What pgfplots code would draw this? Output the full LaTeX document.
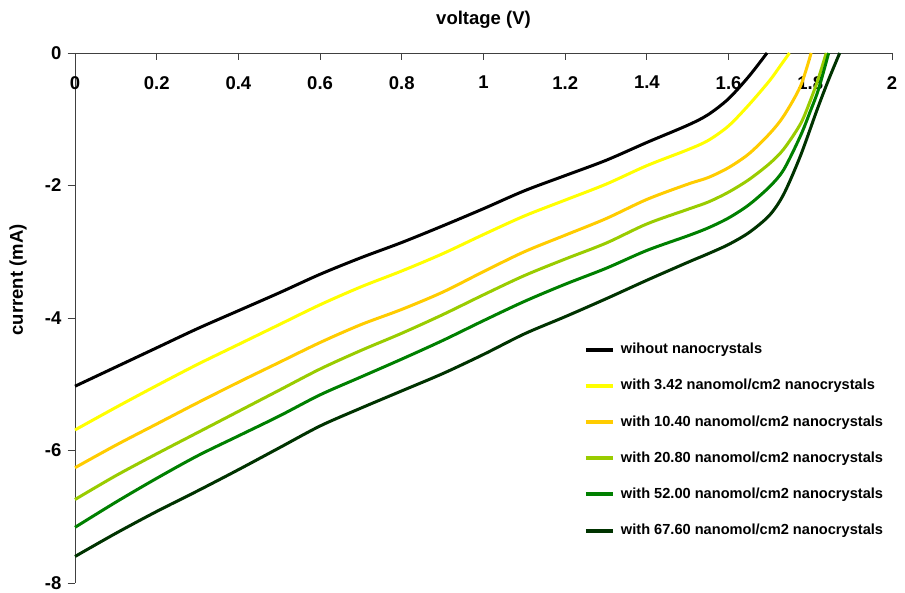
\documentclass[border=0pt]{standalone}
\usepackage{fontspec}
\setmainfont{Liberation Sans}
\usepackage{pgfplots}
\pgfplotsset{compat=1.18}
\usepackage{pgfplotstable}
\definecolor{cyel}{HTML}{FFFF00}
\definecolor{corg}{HTML}{FFCC00}
\definecolor{clgr}{HTML}{99CC00}
\definecolor{cgrn}{HTML}{008000}
\definecolor{cdgr}{HTML}{003300}
\pgfplotstableread{
x y
0 -5.03
0.1 -4.74
0.2 -4.45
0.3 -4.16
0.4 -3.89
0.5 -3.62
0.6 -3.34
0.7 -3.09
0.8 -2.86
0.9 -2.61
1.0 -2.35
1.1 -2.08
1.2 -1.85
1.3 -1.62
1.4 -1.35
1.5 -1.09
1.55 -0.93
1.6 -0.69
1.65 -0.35
1.694 0
}\blackdata
\pgfplotstableread{
x y
0 -5.69
0.1 -5.35
0.2 -5.02
0.3 -4.70
0.4 -4.40
0.5 -4.10
0.6 -3.80
0.7 -3.53
0.8 -3.29
0.9 -3.03
1.0 -2.74
1.1 -2.46
1.2 -2.22
1.3 -1.98
1.4 -1.70
1.5 -1.46
1.55 -1.32
1.6 -1.10
1.65 -0.78
1.7 -0.42
1.727 -0.19
1.749 0
}\yeldata
\pgfplotstableread{
x y
0 -6.26
0.1 -5.92
0.2 -5.60
0.3 -5.28
0.4 -4.97
0.5 -4.67
0.6 -4.37
0.7 -4.10
0.8 -3.87
0.9 -3.61
1.0 -3.30
1.1 -3.00
1.2 -2.75
1.3 -2.50
1.4 -2.21
1.5 -1.98
1.55 -1.88
1.6 -1.73
1.65 -1.52
1.7 -1.22
1.735 -0.95
1.776 -0.50
1.802 0
}\orgdata
\pgfplotstableread{
x y
0 -6.74
0.1 -6.38
0.2 -6.05
0.3 -5.73
0.4 -5.41
0.5 -5.09
0.6 -4.77
0.7 -4.49
0.8 -4.23
0.9 -3.95
1.0 -3.65
1.1 -3.36
1.2 -3.11
1.3 -2.87
1.4 -2.58
1.5 -2.36
1.55 -2.25
1.6 -2.10
1.65 -1.91
1.7 -1.67
1.735 -1.45
1.776 -1.07
1.8 -0.72
1.82 -0.38
1.839 0
}\lgrdata
\pgfplotstableread{
x y
0 -7.16
0.1 -6.78
0.2 -6.42
0.3 -6.08
0.4 -5.78
0.5 -5.48
0.6 -5.16
0.7 -4.89
0.8 -4.62
0.9 -4.34
1.0 -4.04
1.1 -3.75
1.2 -3.49
1.3 -3.25
1.4 -2.98
1.5 -2.76
1.55 -2.64
1.6 -2.49
1.65 -2.29
1.7 -2.02
1.735 -1.76
1.776 -1.25
1.8 -0.88
1.82 -0.55
1.845 0
}\grndata
\pgfplotstableread{
x y
0 -7.60
0.1 -7.25
0.2 -6.92
0.3 -6.61
0.4 -6.29
0.5 -5.96
0.6 -5.63
0.7 -5.36
0.8 -5.10
0.9 -4.84
1.0 -4.55
1.1 -4.24
1.2 -3.98
1.3 -3.71
1.4 -3.43
1.5 -3.16
1.55 -3.03
1.6 -2.89
1.65 -2.71
1.7 -2.45
1.735 -2.13
1.776 -1.55
1.817 -0.85
1.845 -0.40
1.872 0
}\dgrdata
\begin{document}
\begin{tikzpicture}
\useasboundingbox (0,0) rectangle (905pt,593pt);
\begin{axis}[
  at={(75pt,10pt)}, anchor=south west,
  scale only axis, width=817pt, height=530pt,
  xmin=0, xmax=2, ymin=-8, ymax=0,
  axis x line*=top, axis y line*=left,
  axis line style={black!75, line width=0.9pt},
  every tick/.style={black!75, line width=0.9pt},
  major tick length=7.5pt,
  xtick={0,0.2,...,2.01}, ytick={-8,-6,-4,-2,0},
  xtick align=inside, ytick align=outside,
  /pgf/number format/assume math mode=true,
  /pgf/number format/fixed,
  ticklabel style={font=\fontsize{18.5}{20}\selectfont\bfseries},
  xticklabel style={anchor=north, inner sep=0pt, yshift=-23pt},
  yticklabel style={anchor=east, inner sep=0pt, xshift=-6pt},
  xlabel={voltage (V)}, ylabel={current (mA)},
  every axis x label/.style={at={(axis description cs:0.5,1)}, anchor=center, yshift=33pt, font=\fontsize{18.5}{20}\selectfont\bfseries},
  every axis y label/.style={at={(axis description cs:0,0.572)}, rotate=90, anchor=center, yshift=57pt, font=\fontsize{18.5}{20}\selectfont\bfseries},
  clip=false,
  legend cell align=left,
  legend image code/.code={\draw[#1, line width=4pt] (0pt,0pt) -- (27pt,0pt);},
  legend style={draw=none, fill=none, at={(axis cs:1.246,-4.38)}, anchor=north west,
    inner sep=0pt, outer sep=0pt, row sep=23.2pt, column sep=6pt,
    font=\fontsize{14.6}{16}\selectfont\bfseries,
    nodes={inner sep=0pt, text height=10.5pt, text depth=2.5pt}},
  every axis plot/.append style={line width=3pt, line join=round},
]
\addplot[black, smooth] table {\blackdata};
\addlegendentry{wihout nanocrystals}
\addplot[cyel, smooth] table {\yeldata};
\addlegendentry{with 3.42 nanomol/cm2 nanocrystals}
\addplot[corg, smooth] table {\orgdata};
\addlegendentry{with 10.40 nanomol/cm2 nanocrystals}
\addplot[clgr, smooth] table {\lgrdata};
\addlegendentry{with 20.80 nanomol/cm2 nanocrystals}
\addplot[cgrn, smooth] table {\grndata};
\addlegendentry{with 52.00 nanomol/cm2 nanocrystals}
\addplot[cdgr, smooth] table {\dgrdata};
\addlegendentry{with 67.60 nanomol/cm2 nanocrystals}
\end{axis}
\end{tikzpicture}
\end{document}
